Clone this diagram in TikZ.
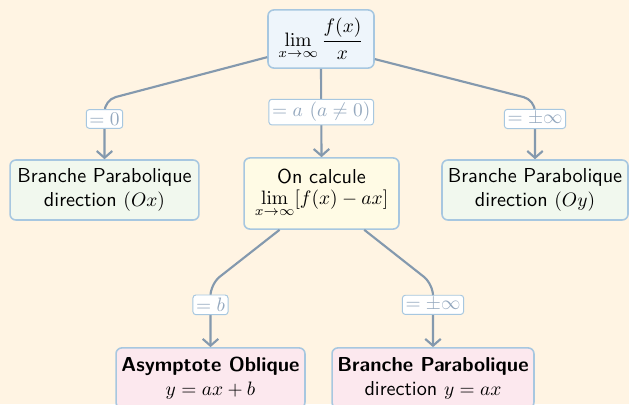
\documentclass[tikz,border=0pt]{standalone}
\usetikzlibrary{arrows.meta}
\definecolor{bg}{HTML}{FFF4E3}
\definecolor{edge}{HTML}{A7C7E0}
\definecolor{arr}{HTML}{8499AE}
\definecolor{lbl}{HTML}{94A8BE}
\definecolor{fblue}{HTML}{EEF5FB}
\definecolor{fgreen}{HTML}{F1F8EE}
\definecolor{fyellow}{HTML}{FFFBE5}
\definecolor{fpink}{HTML}{FCE8EE}
\begin{document}
\begin{tikzpicture}[x=0.515pt,y=-0.515pt,
  box/.style={draw=edge, line width=0.8pt, rounded corners=3pt, align=center, font=\sffamily\fontsize{10.4}{12.4}\selectfont, inner sep=0pt},
  conn/.style={draw=arr, line width=1.1pt, rounded corners=6pt, -{Straight Barb[length=3.5pt,width=8pt]}},
  lab/.style={fill=white, draw=edge, line width=0.5pt, rounded corners=1.5pt, text=lbl, inner sep=1.6pt, font=\fontsize{10.4}{12.4}\selectfont}]
\useasboundingbox (0,0) rectangle (629,404);
\fill[bg] (0,0) rectangle (629,404);
\node[box, fill=fblue, minimum width=54.6pt, minimum height=29.9pt] (top) at (321,39) {$\displaystyle\lim_{x\to\infty}\frac{f(x)}{x}$};
\node[box, fill=fgreen, minimum width=97.3pt, minimum height=30.9pt] (left) at (104.5,190) {Branche Parabolique\\direction $(Ox)$};
\node[box, fill=fyellow, minimum width=79.8pt, minimum height=36.6pt] (mid) at (321.5,193.5) {On calcule\\[-2pt]$\displaystyle\lim_{x\to\infty}[f(x)-ax]$};
\node[box, fill=fgreen, minimum width=95.8pt, minimum height=30.9pt] (right) at (535,190) {Branche Parabolique\\direction $(Oy)$};
\node[box, fill=fpink, minimum width=97.3pt, minimum height=31pt] (bl) at (210.5,378) {\textbf{Asymptote Oblique}\\$y=ax+b$};
\node[box, fill=fpink, minimum width=104pt, minimum height=31pt] (br) at (433,378) {\textbf{Branche Parabolique}\\direction $y=ax$};
\draw[conn] ([yshift=6pt]top.south west) -- (left.north |- 0,100) -- node[lab, pos=0.32] {$=0$} (left.north);
\draw[conn] (top.south) -- node[lab, pos=0.49] {$=a\ (a\neq0)$} (mid.north);
\draw[conn] ([yshift=5pt]top.south east) -- (right.north |- 0,100) -- node[lab, pos=0.32] {$=\pm\infty$} (right.north);
\draw[conn] ([xshift=-21.6pt]mid.south) -- (bl.north |- 0,284) -- node[lab, pos=0.33] {$=b$} (bl.north);
\draw[conn] ([xshift=22pt]mid.south) -- (br.north |- 0,284) -- node[lab, pos=0.33] {$=\pm\infty$} (br.north);
\end{tikzpicture}
\end{document}
